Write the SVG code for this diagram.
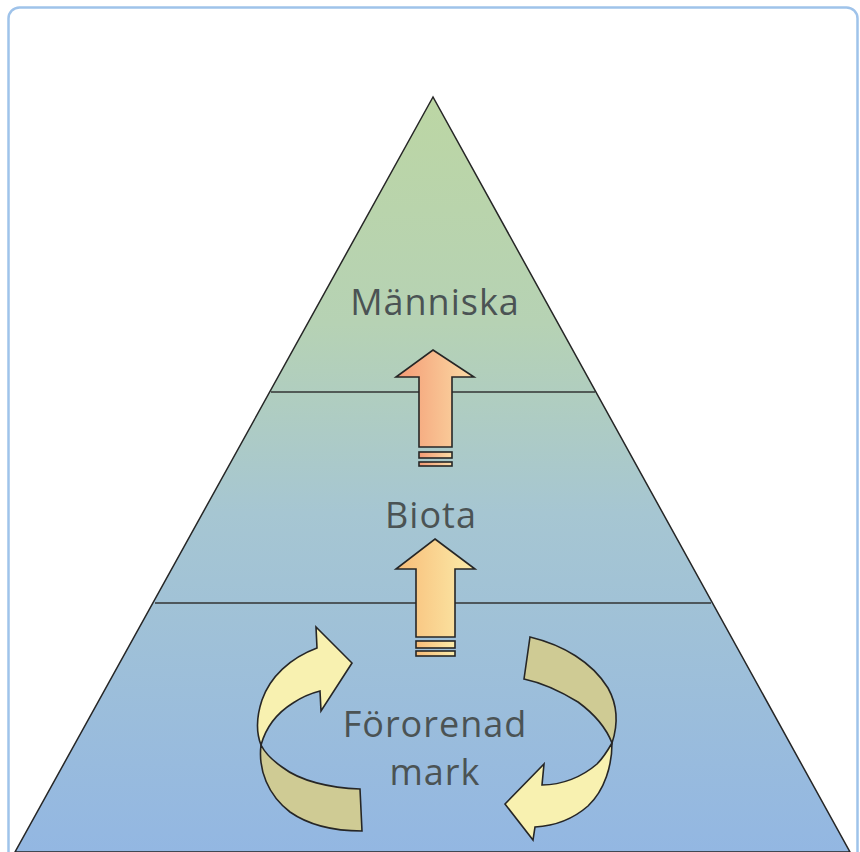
<svg xmlns="http://www.w3.org/2000/svg" width="860" height="852" viewBox="0 0 860 852">
<defs>
<linearGradient id="pyr" x1="0" y1="97" x2="0" y2="852" gradientUnits="userSpaceOnUse">
<stop offset="0" stop-color="#bcd6a4"/>
<stop offset="0.3" stop-color="#b6d2b4"/>
<stop offset="0.55" stop-color="#a6c6d2"/>
<stop offset="1" stop-color="#93b7e2"/>
</linearGradient>
<linearGradient id="ar1" x1="0" y1="0" x2="1" y2="0">
<stop offset="0" stop-color="#f49a74"/>
<stop offset="1" stop-color="#fbdca6"/>
</linearGradient>
<linearGradient id="ar2" x1="0" y1="0" x2="1" y2="0">
<stop offset="0" stop-color="#f8bc78"/>
<stop offset="1" stop-color="#fbecaa"/>
</linearGradient>
<style>
.lbl{font-family:"Open Sans","Noto Sans","Liberation Sans",sans-serif;font-size:36px;fill:#4b5354;text-anchor:middle}
.ol{stroke:#262626;stroke-width:1.6;stroke-linejoin:miter}
.front{fill:#f8f1b0}
.back{fill:#cfcb94}
</style>
</defs>
<rect x="0" y="0" width="860" height="852" fill="#ffffff"/>
<rect x="8.5" y="7.5" width="849" height="870" rx="11" fill="#ffffff" stroke="#9fc3ea" stroke-width="2.5"/>
<g id="pyramid">
<polygon points="433,97 15,852 850,852" fill="url(#pyr)" stroke="#262626" stroke-width="1.5"/>
</g>
<g id="dividers">
<line x1="271" y1="392" x2="595" y2="392" stroke="#333" stroke-width="1.5"/>
<line x1="155" y1="603" x2="711" y2="603" stroke="#333" stroke-width="1.5"/>
</g>
<g id="arrow-up-1">
<path class="ol" fill="url(#ar1)" d="M433,350 L474,377 L452,377 L452,447 L419,447 L419,377 L396,377 Z"/>
<rect class="ol" fill="url(#ar1)" x="419" y="452" width="33" height="6"/>
<rect class="ol" fill="url(#ar1)" x="419" y="462" width="33" height="4"/>
</g>
<g id="arrow-up-2">
<path class="ol" fill="url(#ar2)" d="M435,539 L475,569 L455,569 L455,637 L416,637 L416,569 L396,569 Z"/>
<rect class="ol" fill="url(#ar2)" x="416" y="641" width="39" height="7"/>
<rect class="ol" fill="url(#ar2)" x="416" y="651" width="39" height="5"/>
</g>
<g id="label-manniska"><text class="lbl" x="435" y="315" letter-spacing="1">Människa</text></g>
<g id="label-biota"><text class="lbl" x="431" y="528" letter-spacing="1">Biota</text></g>
<g id="label-fororenad"><text class="lbl" x="435" y="737" letter-spacing="1">Förorenad</text>
<text class="lbl" x="435" y="785" letter-spacing="1">mark</text></g>
<g id="cycle-left">
<path class="ol back" d="M261,745 C258,770 268,795 290,812 C310,826 335,831 362,831 L360,789 C330,788 300,781 282,767 C272,760 265,753 261,745 Z"/>
<path class="ol front" d="M317,648 C290,658 270,677 262,700 C256,718 256,732 261,745 C266,727 277,713 293,703 C302,697 312,693 320,691 L321,711 L352,663 L316,627 Z"/>
</g>
<g id="cycle-right">
<path class="ol back" d="M530,637 C563,645 592,662 608,688 C618,706 618,725 612,743 C605,725 593,713 578,702 C560,691 543,683 524,679 Z"/>
<path class="ol front" d="M612,743 C612,765 605,790 588,806 C572,820 553,826 535,827 L533,840 L505,804 L544,764 L542,785 C562,785 582,777 597,764 C604,757 608,750 612,743 Z"/>
</g>
</svg>
